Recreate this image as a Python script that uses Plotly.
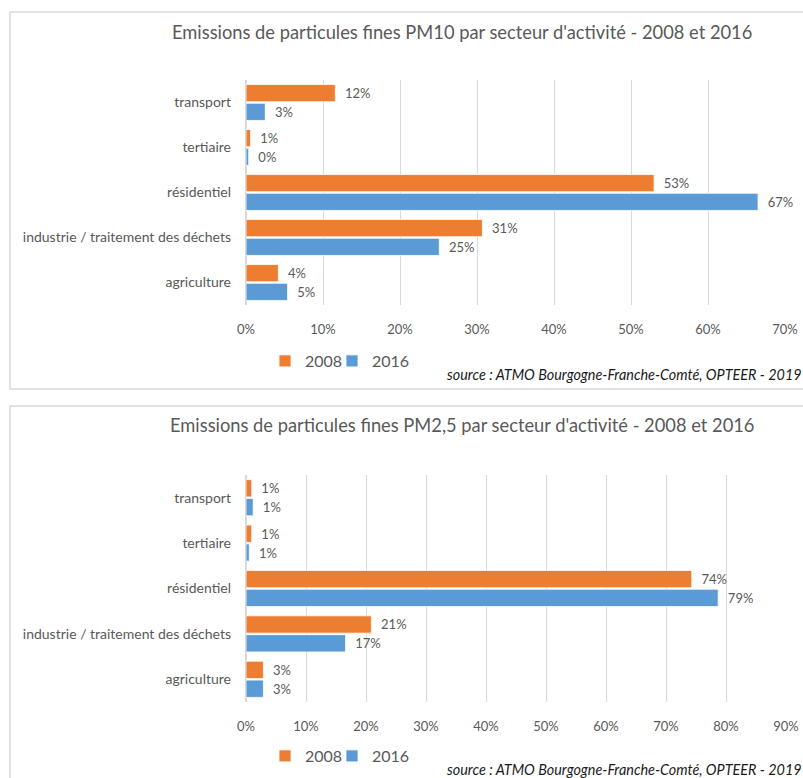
import plotly.graph_objects as go

W, H = 803, 778

categories = ["agriculture", "industrie / traitement des déchets", "résidentiel", "tertiaire", "transport"]

# PM10 shares (fraction of total)
pm10_2008 = [0.042, 0.307, 0.530, 0.006, 0.116]
pm10_2016 = [0.054, 0.251, 0.665, 0.0035, 0.025]

# PM2,5 shares
pm25_2008 = [0.029, 0.209, 0.743, 0.0095, 0.0095]
pm25_2016 = [0.029, 0.166, 0.787, 0.0055, 0.012]

titles = [
    "Emissions de particules fines PM10 par secteur d'activité - 2008 et 2016",
    "Emissions de particules fines PM2,5 par secteur d'activité - 2008 et 2016",
]
source = "source : ATMO Bourgogne-Franche-Comté, OPTEER - 2019"

ORANGE = "#ED7D31"
BLUE = "#5B9BD5"
GREY_TXT = "#595959"
GRID = "#D9D9D9"
FONT = "Lato, 'Open Sans', sans-serif"


def px(x):
    return x / W


def py(y):
    return 1 - y / H


fig = go.Figure()

# one legend per series and panel so entries can sit close together like Excel
panels = [
    dict(v08=pm10_2008, v16=pm10_2016, xa="x", ya="y", leg08="legend", leg16="legend2"),
    dict(v08=pm25_2008, v16=pm25_2016, xa="x2", ya="y2", leg08="legend3", leg16="legend4"),
]

for p in panels:
    # 2016 first so that it sits below 2008 inside each group
    for name, vals, col, leg in [("2016", p["v16"], BLUE, p["leg16"]), ("2008", p["v08"], ORANGE, p["leg08"])]:
        fig.add_trace(go.Bar(
            y=categories, x=vals, orientation="h", name=name,
            marker=dict(color=col, line=dict(color="white", width=0.8)),
            texttemplate="\u00a0\u00a0%{x:.0%}", textposition="outside",
            textfont=dict(color=GREY_TXT, size=13, family=FONT),
            cliponaxis=False, xaxis=p["xa"], yaxis=p["ya"],
            legend=leg, hoverinfo="skip",
        ))

axis_common = dict(
    showgrid=True, gridcolor=GRID, gridwidth=1, zeroline=True, zerolinecolor=GRID,
    tickformat=".0%", dtick=0.1, tickfont=dict(color=GREY_TXT, size=13, family=FONT),
    ticklabelstandoff=15, fixedrange=True, automargin=False,
)
yaxis_common = dict(
    showgrid=False, showline=False, ticks="",
    tickfont=dict(color=GREY_TXT, size=14, family=FONT),
    ticklabelstandoff=14, fixedrange=True, automargin=False,
)

legend_common = dict(
    orientation="h", font=dict(size=16, color=GREY_TXT, family=FONT),
    bgcolor="rgba(0,0,0,0)", xanchor="left", yanchor="middle", itemwidth=30,
)

fig.update_layout(
    width=W, height=H, margin=dict(l=0, r=0, t=0, b=0, autoexpand=False),
    paper_bgcolor="white", plot_bgcolor="white",
    font=dict(family=FONT, color=GREY_TXT),
    barmode="group", bargap=0.17, bargroupgap=0.08,
    showlegend=True,
    xaxis=dict(domain=[px(246), px(785)], range=[0, 0.7], anchor="y", **axis_common),
    yaxis=dict(domain=[py(305), py(80)], anchor="x", **yaxis_common),
    xaxis2=dict(domain=[px(246), px(786)], range=[0, 0.9], anchor="y2", **axis_common),
    yaxis2=dict(domain=[py(702), py(475)], anchor="x2", **yaxis_common),
    legend=dict(x=px(265), y=py(361), **legend_common),
    legend2=dict(x=px(332), y=py(361), **legend_common),
    legend3=dict(x=px(265), y=py(756), **legend_common),
    legend4=dict(x=px(332), y=py(756), **legend_common),
)

# chart frames
fig.add_shape(type="rect", xref="paper", yref="paper",
              x0=px(10), x1=px(820), y0=py(389), y1=py(12),
              line=dict(color=GRID, width=1.5), layer="below")
fig.add_shape(type="rect", xref="paper", yref="paper",
              x0=px(10), x1=px(820), y0=py(800), y1=py(406),
              line=dict(color=GRID, width=1.5), layer="below")

for title, ty in zip(titles, [32, 425]):
    fig.add_annotation(text=title, xref="paper", yref="paper", x=px(462), y=py(ty),
                       xanchor="center", yanchor="middle", showarrow=False,
                       font=dict(size=18.3, color=GREY_TXT, family=FONT))

for sy in [375, 769]:
    fig.add_annotation(text=f"<i>{source}</i>", xref="paper", yref="paper", x=px(804), y=py(sy),
                       xanchor="right", yanchor="middle", showarrow=False,
                       font=dict(size=14.4, color="#1a1a1a", family=FONT))

fig.write_html(
    "out.html",
    config={"displayModeBar": False},
    post_script="document.body.style.margin='0';document.body.style.overflow='hidden';",
)
